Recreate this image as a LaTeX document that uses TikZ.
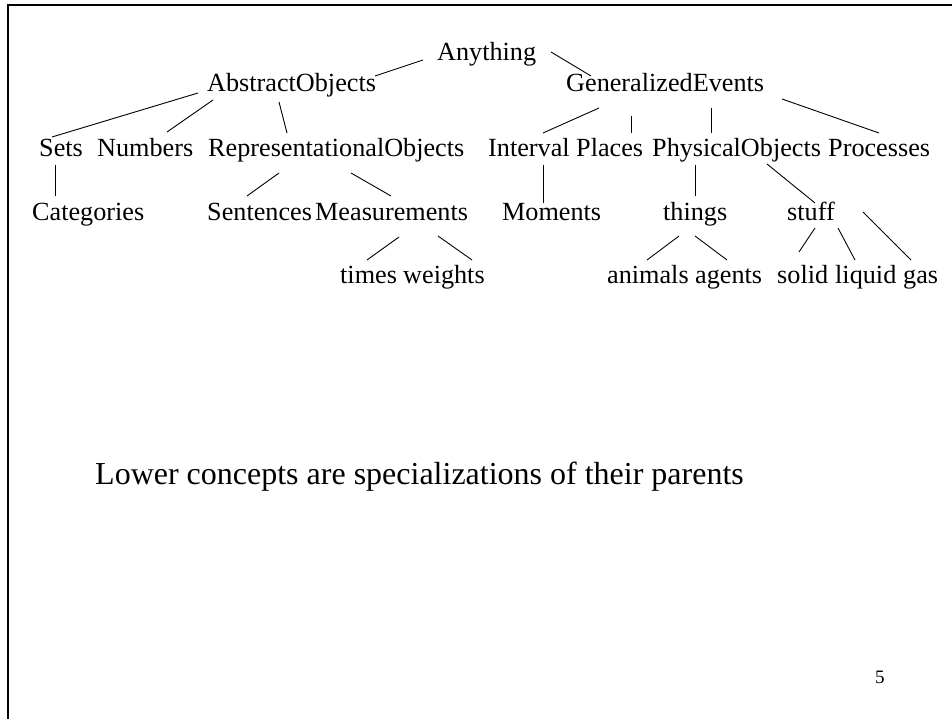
\documentclass[tikz,border=0pt]{standalone}
\usepackage{fontspec}
\setmainfont{Liberation Serif}
\usetikzlibrary{calc}
\tikzstyle{concept}=[anchor=base west, inner sep=0pt, font=\fontsize{26.2bp}{30bp}\selectfont]
\tikzstyle{isa}=[line width=0.9bp]
\tikzstyle{frame}=[line width=2.6bp]
\begin{document}
\begin{tikzpicture}[x=1bp, y=-1bp]
\useasboundingbox (0,0) rectangle (952,719);

% slide frame (top and left edge only)
\draw[frame] (952,5) -- (8,5) -- (8,719);

% level 0 and 1
\node[concept] (any) at (437,61) {Anything};
\node[concept] (abs) at (207,92) {AbstractObjects};
\node[concept] (gen) at (566,92) {GeneralizedEvents};

% level 2
\node[concept] (sets) at (39,157)  {Sets};
\node[concept] (num)  at (97,157)  {Numbers};
\node[concept] (rep)  at (208,157) {RepresentationalObjects};
\node[concept] (intv) at (488,157) {Interval};
\node[concept] (plc)  at (576,157) {Places};
\node[concept] (phys) at (652,157) {PhysicalObjects};
\node[concept] (proc) at (828,157) {Processes};

% level 3
\node[concept] (cat)  at (32,220)  {Categories};
\node[concept] (sent) at (207,220) {Sentences};
\node[concept] (meas) at (315,220) {Measurements};
\node[concept] (mom)  at (502,220) {Moments};
\node[concept] (thg)  at (663,220) {things};
\node[concept] (stf)  at (787,220) {stuff};

% level 4
\node[concept] (times)   at (340,283) {times};
\node[concept] (weights) at (403,283) {weights};
\node[concept] (anim)    at (607,283) {animals};
\node[concept] (agt)     at (695,283) {agents};
\node[concept] (solid)   at (777,283) {solid};
\node[concept] (liquid)  at (835,283) {liquid};
\node[concept] (gas)     at (903,283) {gas};

% is-a links
\draw[isa] ($(any.base west)+(-14,-1)$) -- ($(abs.base west)+(168,-16)$);
\draw[isa] ($(any.base west)+(114,-9)$) -- ($(gen.base west)+(25,-16)$);
\draw[isa] ($(abs.base west)+(-9,1)$) -- ($(sets.base west)+(13,-20)$);
\draw[isa] ($(abs.base west)+(6,8)$) -- ($(num.base west)+(70,-25)$);
\draw[isa] ($(abs.base west)+(72,10)$) -- ($(rep.base west)+(79,-24)$);
\draw[isa] ($(gen.base west)+(33,16)$) -- ($(intv.base west)+(55,-24)$);
\draw[isa] ($(gen.base west)+(65,24)$) -- ($(plc.base west)+(55,-24)$);
\draw[isa] ($(gen.base west)+(145,16)$) -- ($(phys.base west)+(59,-24)$);
\draw[isa] ($(gen.base west)+(216,7)$) -- ($(proc.base west)+(51,-24)$);
\draw[isa] ($(sets.base west)+(16,8)$) -- ($(cat.base west)+(23,-24)$);
\draw[isa] ($(rep.base west)+(71,16)$) -- ($(sent.base west)+(40,-24)$);
\draw[isa] ($(rep.base west)+(143,16)$) -- ($(meas.base west)+(76,-24)$);
\draw[isa] ($(intv.base west)+(55,8)$) -- ($(mom.base west)+(41,-17)$);
\draw[isa] ($(phys.base west)+(43,8)$) -- ($(thg.base west)+(32,-24)$);
\draw[isa] ($(phys.base west)+(115,7)$) -- ($(stf.base west)+(28,-17)$);
\draw[isa] ($(meas.base west)+(84,17)$) -- ($(times.base west)+(27,-23)$);
\draw[isa] ($(meas.base west)+(123,16)$) -- ($(weights.base west)+(69,-23)$);
\draw[isa] ($(thg.base west)+(16,16)$) -- ($(anim.base west)+(40,-23)$);
\draw[isa] ($(thg.base west)+(32,16)$) -- ($(agt.base west)+(32,-23)$);
\draw[isa] ($(stf.base west)+(28,8)$) -- ($(solid.base west)+(22,-31)$);
\draw[isa] ($(stf.base west)+(51,8)$) -- ($(liquid.base west)+(20,-23)$);
\draw[isa] ($(stf.base west)+(76,-8)$) -- ($(gas.base west)+(8,-23)$);

% caption and page number
\node[anchor=base west, inner sep=0pt, font=\fontsize{32bp}{37bp}\selectfont] (note) at (95,484) {Lower concepts are specializations of their parents};
\node[anchor=base west, inner sep=0pt, font=\fontsize{19bp}{22bp}\selectfont] (pg) at (875,683) {5};
\end{tikzpicture}
\end{document}
